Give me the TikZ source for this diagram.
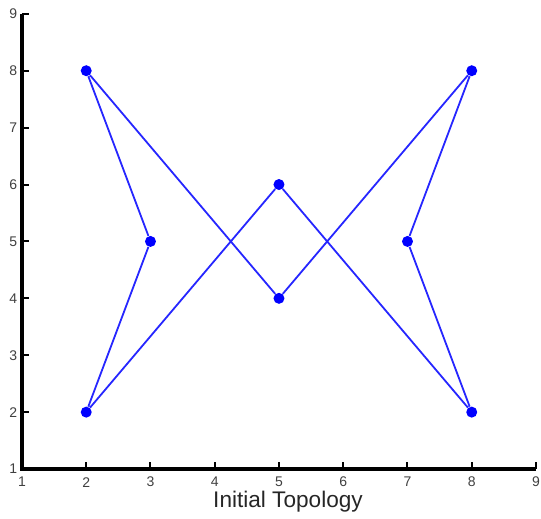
\documentclass[tikz,border=0pt]{standalone}
\usepackage{fontspec}
\setmainfont{Liberation Sans}
\usepackage{tikz}

\begin{document}
\begin{tikzpicture}[x=32.125pt, y=28.45pt,
  every node/.style={font=\fontsize{7}{8}\selectfont, text=black!75},
  pt/.style={circle, fill=blue, inner sep=0pt, minimum size=5.5pt},
  edge/.style={blue!85, line width=0.9pt}]
\useasboundingbox (0.658,0.139) rectangle (9.078,9.243);
% axes
\draw[line width=2pt] (1,9) -- (1,1) -- (9,1);
\foreach \i in {2,...,9} {
  \draw[line width=1pt] (\i,1) -- (\i,1.123);
  \draw[line width=1pt] (1,\i) -- (1.109,\i);
}
\foreach \i in {1,...,9} {
  \node at (\i,0.77) {\i};
  \node[anchor=east, inner sep=0pt] at (0.93,\i) {\i};
}
\node[font=\fontsize{11.3}{13}\selectfont, text=black!85] (title) at (5.14,0.42) {Initial Topology};
% topology
\node[pt] (tl) at (2,8) {};
\node[pt] (ml) at (3,5) {};
\node[pt] (bl) at (2,2) {};
\node[pt] (mt) at (5,6) {};
\node[pt] (mb) at (5,4) {};
\node[pt] (mr) at (7,5) {};
\node[pt] (tr) at (8,8) {};
\node[pt] (br) at (8,2) {};
\draw[edge] (tl) -- (ml) -- (bl) -- (mt) -- (br) -- (mr) -- (tr) -- (mb) -- (tl);
\end{tikzpicture}
\end{document}
